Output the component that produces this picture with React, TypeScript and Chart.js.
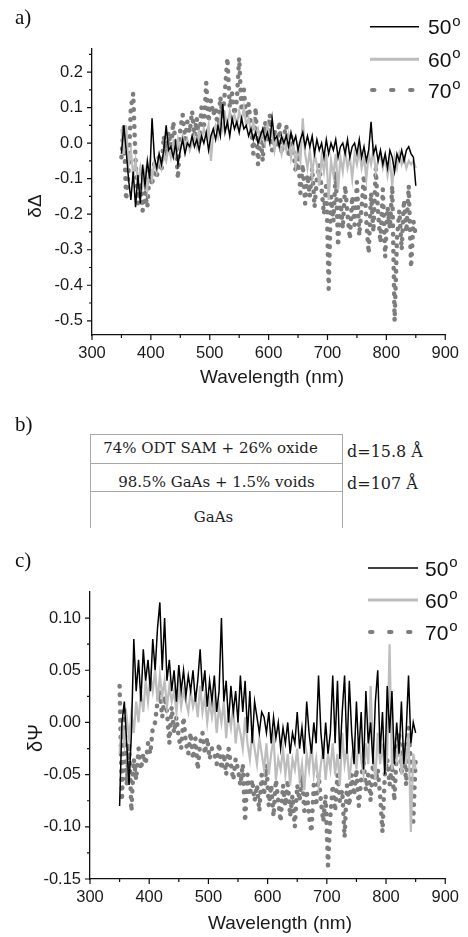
import { useEffect, useRef } from "react";
import { Chart, registerables } from "chart.js";

Chart.register(...registerables);

// ---------- data ----------
const wavelengths = [
  350, 354, 358, 362, 366, 370, 374, 378, 382, 386,
  390, 394, 398, 402, 406, 410, 414, 418, 422, 426,
  430, 434, 438, 442, 446, 450, 454, 458, 462, 466,
  470, 474, 478, 482, 486, 490, 494, 498, 502, 506,
  510, 514, 518, 522, 526, 530, 534, 538, 542, 546,
  550, 554, 558, 562, 566, 570, 574, 578, 582, 586,
  590, 594, 598, 602, 606, 610, 614, 618, 622, 626,
  630, 634, 638, 642, 646, 650, 654, 658, 662, 666,
  670, 674, 678, 682, 686, 690, 694, 698, 702, 706,
  710, 714, 718, 722, 726, 730, 734, 738, 742, 746,
  750, 754, 758, 762, 766, 770, 774, 778, 782, 786,
  790, 794, 798, 802, 806, 810, 814, 818, 822, 826,
  830, 834, 838, 842, 846, 850,
];

// panel a) delta-Delta
const deltaDelta50 = [
  -0.03, 0.05, -0.02, -0.10, -0.16, -0.08, -0.18, -0.09, -0.17, -0.06,
  -0.12, -0.05, -0.10, 0.07, -0.04, -0.07, -0.03, -0.06, -0.02, 0.05,
  -0.02, -0.01, -0.04, 0.00, -0.06, -0.02, 0.01, -0.03, 0.00, -0.01,
  0.02, -0.01, 0.01, -0.02, 0.02, 0.00, 0.03, -0.02, 0.02, 0.04,
  0.01, 0.05, 0.02, 0.11, 0.03, 0.06, 0.02, 0.07, 0.04, 0.06,
  0.03, 0.07, 0.04, 0.05, 0.02, 0.04, 0.01, 0.03, 0.00, 0.02,
  0.04, 0.01, 0.03, 0.00, 0.07, 0.01, 0.02, -0.01, 0.02, 0.00,
  0.02, -0.01, 0.03, 0.00, 0.02, -0.02, 0.01, 0.03, -0.01, 0.02,
  -0.01, 0.02, -0.03, 0.01, -0.02, 0.00, -0.04, 0.01, -0.03, 0.00,
  -0.02, 0.01, -0.04, -0.01, 0.00, -0.03, 0.01, -0.04, -0.01, 0.00,
  -0.03, 0.01, -0.04, -0.01, -0.05, -0.02, 0.06, -0.03, -0.01, -0.05,
  -0.02, -0.06, -0.03, -0.07, -0.02, -0.04, -0.08, -0.03, -0.05, -0.02,
  -0.05, -0.02, -0.01, -0.03, -0.04, -0.12,
];
const deltaDelta60 = [
  0.04, -0.03, 0.05, -0.06, -0.02, -0.09, -0.05, -0.11, -0.07, -0.12,
  -0.08, -0.13, -0.06, -0.10, -0.05, -0.08, -0.04, -0.07, -0.03, -0.05,
  -0.01, -0.04, 0.00, -0.03, 0.01, -0.02, 0.02, -0.01, 0.01, -0.02,
  0.00, 0.02, -0.01, 0.03, 0.01, 0.04, 0.02, 0.05, -0.05, 0.03,
  0.05, 0.02, 0.07, 0.04, 0.08, 0.05, 0.09, 0.06, 0.08, 0.05,
  0.09, 0.06, 0.10, 0.05, 0.07, 0.03, 0.06, 0.02, 0.04, 0.01,
  0.03, 0.00, 0.05, 0.01, 0.03, -0.02, 0.02, 0.00, -0.03, 0.01,
  -0.02, 0.02, -0.04, 0.00, -0.06, -0.01, -0.05, 0.07, -0.03, -0.07,
  -0.02, -0.09, -0.03, -0.06, -0.12, -0.04, -0.08, -0.03, -0.16, -0.05,
  -0.09, -0.03, -0.13, -0.04, -0.08, -0.02, -0.07, -0.04, -0.10, -0.03,
  -0.06, -0.02, -0.07, -0.04, -0.10, -0.03, -0.06, -0.02, -0.08, -0.05,
  -0.03, -0.07, -0.04, -0.09, -0.05, -0.12, -0.04, -0.07, -0.03, -0.06,
  -0.04, -0.07, -0.05, -0.06, -0.05, -0.07,
];
const deltaDelta70 = [
  -0.04, 0.05, -0.16, -0.08, 0.10, 0.14, -0.05, -0.17, -0.11, -0.19,
  -0.14, -0.18, -0.07, -0.12, -0.05, -0.10, -0.03, -0.08, 0.02, -0.04,
  0.03, -0.02, 0.06, 0.00, -0.10, 0.04, 0.08, 0.01, 0.06, 0.03,
  0.09, 0.02, 0.07, 0.00, 0.10, 0.04, 0.17, 0.06, 0.12, 0.08,
  0.10, 0.03, 0.13, 0.07, 0.15, 0.24, 0.10, 0.14, 0.08, 0.12,
  0.24, 0.09, 0.15, 0.07, 0.11, 0.05, -0.03, 0.10, -0.06, 0.03,
  -0.05, 0.06, 0.01, 0.08, -0.02, 0.04, -0.01, 0.06, -0.03, 0.02,
  0.05, -0.04, 0.02, -0.02, -0.08, -0.03, -0.14, -0.06, -0.17, -0.09,
  -0.15, -0.07, -0.18, -0.10, -0.06, -0.13, -0.20, -0.11, -0.41, -0.15,
  -0.22, -0.08, -0.29, -0.16, -0.24, -0.12, -0.20, -0.27, -0.15, -0.23,
  -0.11, -0.26, -0.18, -0.09, -0.22, -0.31, -0.14, -0.25, -0.07, -0.20,
  -0.28, -0.13, -0.32, -0.18, -0.24, -0.12, -0.50, -0.27, -0.19, -0.30,
  -0.16, -0.25, -0.12, -0.35, -0.22, -0.26,
];

// panel c) delta-Psi
const deltaPsi50 = [
  -0.08, 0.00, 0.02, -0.02, -0.06, -0.01, 0.08, 0.03, 0.06, 0.02,
  0.07, 0.04, 0.06, 0.03, 0.08, 0.05, 0.09, 0.115, 0.05, 0.10,
  0.04, 0.06, 0.03, 0.05, 0.02, 0.055, 0.03, 0.05, 0.025, 0.045,
  0.03, 0.05, 0.02, 0.04, 0.07, 0.03, 0.05, 0.015, 0.04, 0.02,
  0.045, 0.01, 0.03, 0.10, 0.02, 0.04, 0.00, 0.035, 0.01, 0.03,
  0.00, 0.045, 0.01, 0.04, -0.01, 0.03, -0.02, 0.02, 0.005, -0.01,
  0.01, 0.005, -0.01, 0.01, -0.02, 0.005, -0.015, 0.00, -0.025, -0.005,
  -0.02, 0.00, -0.03, -0.01, -0.02, 0.01, -0.025, -0.005, -0.03, 0.02,
  -0.01, -0.03, 0.00, -0.02, 0.045, -0.01, -0.035, 0.00, -0.03, -0.01,
  0.045, -0.02, 0.04, -0.035, 0.01, 0.045, -0.03, 0.04, -0.01, -0.04,
  0.02, -0.03, 0.01, -0.045, 0.03, -0.02, 0.00, -0.04, 0.02, 0.05,
  -0.03, 0.01, -0.05, 0.035, -0.01, 0.03, -0.04, 0.00, -0.03, 0.02,
  -0.04, -0.01, 0.045, -0.02, 0.00, -0.01,
];
const deltaPsi60 = [
  -0.03, 0.00, -0.02, 0.005, -0.015, 0.01, -0.01, 0.02, 0.00, 0.03,
  0.01, 0.04, 0.02, 0.045, 0.03, 0.05, 0.02, 0.045, 0.025, 0.04,
  0.015, 0.035, 0.02, 0.03, 0.01, 0.035, 0.015, 0.03, 0.02, 0.01,
  0.03, 0.015, 0.025, 0.005, 0.035, 0.01, 0.025, 0.00, 0.02, 0.005,
  0.02, -0.01, 0.015, 0.00, 0.02, -0.015, 0.01, -0.005, 0.015, -0.02,
  0.00, -0.01, -0.025, 0.005, -0.02, -0.035, -0.01, -0.025, -0.04, -0.015,
  -0.03, -0.045, -0.02, -0.05, -0.03, -0.015, -0.055, -0.035, -0.045, -0.025,
  -0.05, -0.03, -0.06, -0.035, -0.045, -0.025, -0.055, -0.04, -0.065, -0.03,
  -0.045, -0.02, -0.05, -0.035, -0.06, -0.04, -0.025, -0.055, -0.03, -0.045,
  -0.02, -0.05, -0.03, -0.06, -0.01, -0.04, -0.025, -0.055, -0.035, -0.02,
  -0.045, -0.015, -0.035, -0.05, -0.02, -0.04, 0.035, -0.03, -0.055, -0.01,
  -0.04, -0.02, -0.05, -0.03, 0.075, -0.045, -0.02, -0.035, -0.015, -0.05,
  -0.02, -0.04, -0.01, -0.105, -0.03, -0.045,
];
const deltaPsi70 = [
  0.035, -0.075, 0.015, -0.06, -0.02, -0.085, -0.035, -0.055, -0.025, -0.045,
  -0.03, -0.04, -0.02, -0.03, -0.005, 0.00, 0.02, 0.03, 0.005, 0.025,
  0.01, -0.02, 0.015, -0.01, 0.005, -0.015, -0.025, 0.005, -0.02, -0.03,
  -0.01, -0.035, -0.015, -0.045, -0.02, -0.01, -0.03, -0.015, -0.035, -0.025,
  -0.03, -0.04, -0.02, -0.045, -0.03, -0.05, -0.025, -0.04, -0.055, -0.035,
  -0.045, -0.06, -0.04, -0.095, -0.05, -0.07, -0.055, -0.075, -0.06, -0.085,
  -0.05, -0.07, -0.04, -0.08, -0.06, -0.09, -0.055, -0.075, -0.095, -0.06,
  -0.08, -0.055, -0.09, -0.07, -0.10, -0.06, -0.075, -0.05, -0.085, -0.065,
  -0.09, -0.105, -0.06, -0.08, -0.05, -0.075, -0.095, -0.07, -0.137, -0.09,
  -0.06, -0.085, -0.05, -0.075, -0.065, -0.11, -0.06, -0.08, -0.05, -0.07,
  -0.045, -0.08, -0.055, -0.035, -0.065, -0.05, -0.075, -0.04, -0.06, -0.045,
  -0.07, -0.105, -0.05, -0.035, -0.06, -0.04, -0.075, -0.03, -0.01, -0.05,
  -0.02, -0.06, -0.005, -0.04, -0.095, -0.035,
];

const angleLabels = ["50", "60", "70"];
const xTicks = [300, 400, 500, 600, 700, 800, 900];
const xMinorTicks = [350, 450, 550, 650, 750, 850];
const yTicksA = [-0.5, -0.4, -0.3, -0.2, -0.1, 0, 0.1, 0.2];
const yMinorTicksA = [-0.45, -0.35, -0.25, -0.15, -0.05, 0.05, 0.15, 0.25];
const yTicksC = [-0.15, -0.1, -0.05, 0, 0.05, 0.1];
const yMinorTicksC = [-0.125, -0.075, -0.025, 0.025, 0.075];

// ---------- styles ----------
const SANS = '"Liberation Sans", Arial, sans-serif';
const SERIF_T = '"Liberation Serif", "Times New Roman", serif';
const SERIF_B = '"DejaVu Serif", serif';
const COLOR_50 = "#000000";
const COLOR_60 = "#bdbdbd";
const COLOR_70 = "#7d7d7d";

const decorPlugin = {
  id: "decor",
  afterDraw(chart: any, _args: any, opts: any) {
    const { ctx, chartArea, scales } = chart;
    const xs = scales.x;
    const ys = scales.y;
    ctx.save();
    ctx.strokeStyle = "#111";
    ctx.lineWidth = 1.2;
    ctx.beginPath();
    const tickX = (v: number, len: number) => {
      const px = xs.getPixelForValue(v);
      ctx.moveTo(px, chartArea.bottom);
      ctx.lineTo(px, chartArea.bottom + len);
    };
    const tickY = (v: number, len: number) => {
      const py = ys.getPixelForValue(v);
      ctx.moveTo(chartArea.left, py);
      ctx.lineTo(chartArea.left - len, py);
    };
    opts.xMajor.forEach((v: number) => tickX(v, 5));
    opts.xMinor.forEach((v: number) => tickX(v, 3));
    opts.yMajor.forEach((v: number) => tickY(v, 5));
    opts.yMinor.forEach((v: number) => tickY(v, 3));
    ctx.stroke();

    // axis titles
    ctx.fillStyle = "#1a1a1a";
    ctx.font = `19px ${SANS}`;
    ctx.textAlign = "center";
    ctx.textBaseline = "alphabetic";
    ctx.fillText(opts.xTitle, opts.xTitleX, opts.xTitleY);
    ctx.save();
    ctx.translate(opts.yTitleX, opts.yTitleY);
    ctx.rotate(-Math.PI / 2);
    ctx.textBaseline = "middle";
    ctx.font = `${opts.yTitleSize}px ${SANS}`;
    ctx.fillText(opts.yTitle, 0, 0);
    ctx.restore();

    // legend
    const L = opts.legend;
    chart.data.datasets.forEach((ds: any, i: number) => {
      const y = L.ys[i];
      ctx.save();
      ctx.strokeStyle = ds.borderColor;
      if (ds.borderDash && ds.borderDash.length) {
        ctx.lineWidth = 4;
        ctx.lineCap = "round";
        ctx.beginPath();
        for (let k = 0; k < 3; k++) {
          const sx = L.x0 + 2 + k * 19;
          ctx.moveTo(sx, y);
          ctx.lineTo(sx + 2.5, y);
        }
        ctx.stroke();
      } else {
        ctx.lineWidth = i === 0 ? 1.5 : 3;
        ctx.beginPath();
        ctx.moveTo(L.x0, y);
        ctx.lineTo(L.x1, y);
        ctx.stroke();
      }
      ctx.restore();
      ctx.fillStyle = "#111";
      ctx.textAlign = "left";
      ctx.textBaseline = "alphabetic";
      ctx.font = `21px ${SANS}`;
      const txt = angleLabels[i];
      ctx.fillText(txt, L.textX, y + 7.5);
      const w = ctx.measureText(txt).width;
      ctx.font = `15px ${SANS}`;
      ctx.fillText("o", L.textX + w + 1, y - 1);
    });
    ctx.restore();
  },
};

function makeConfig(p: any) {
  const pts = (vals: number[]) => wavelengths.map((x, i) => ({ x, y: vals[i] }));
  const tickFont = { family: SANS, size: 16.5 };
  return {
    type: "line",
    data: {
      datasets: [
        {
          label: `${angleLabels[0]}°`,
          data: pts(p.s50),
          borderColor: COLOR_50,
          borderWidth: 1.5,
          pointRadius: 0,
          tension: 0,
        },
        {
          label: `${angleLabels[1]}°`,
          data: pts(p.s60),
          borderColor: COLOR_60,
          borderWidth: 2.2,
          pointRadius: 0,
          tension: 0,
        },
        {
          label: `${angleLabels[2]}°`,
          data: pts(p.s70),
          borderColor: COLOR_70,
          borderWidth: 4.5,
          borderDash: [0.5, 8],
          borderCapStyle: "round",
          borderJoinStyle: "round",
          pointRadius: 0,
          tension: 0,
        },
      ],
    },
    options: {
      animation: false,
      responsive: false,
      maintainAspectRatio: false,
      events: [],
      layout: { padding: p.padding },
      plugins: {
        legend: { display: false },
        tooltip: { enabled: false },
        decor: p.decor,
      },
      scales: {
        x: {
          type: "linear",
          min: 300,
          max: 900,
          afterFit: (s: any) => {
            s.height = p.xAxisHeight;
          },
          afterBuildTicks: (s: any) => {
            s.ticks = xTicks.map((v) => ({ value: v }));
          },
          grid: { display: false, drawTicks: false },
          border: { display: true, color: "#111", width: 1.3 },
          ticks: {
            padding: 9,
            autoSkip: false,
            maxRotation: 0,
            color: "#1a1a1a",
            font: tickFont,
            callback: (v: any) => String(v),
          },
        },
        y: {
          type: "linear",
          min: p.yMin,
          max: p.yMax,
          afterFit: (s: any) => {
            s.width = p.yAxisWidth;
          },
          afterBuildTicks: (s: any) => {
            s.ticks = p.yTicks.map((v: number) => ({ value: v }));
          },
          grid: { display: false, drawTicks: false },
          border: { display: true, color: "#111", width: 1.3 },
          ticks: {
            padding: 9,
            autoSkip: false,
            color: "#1a1a1a",
            font: tickFont,
            callback: (v: any) => Number(v).toFixed(p.decimals),
          },
        },
      },
    },
    plugins: [decorPlugin],
  };
}

function ChartCanvas({ config, width, height, top }: any) {
  const ref = useRef<HTMLCanvasElement | null>(null);
  useEffect(() => {
    if (!ref.current) return;
    const chart = new Chart(ref.current, config as any);
    return () => chart.destroy();
  }, []);
  return (
    <canvas
      ref={ref}
      width={width}
      height={height}
      style={{ position: "absolute", left: 0, top, width, height }}
    />
  );
}

const configA = makeConfig({
  s50: deltaDelta50,
  s60: deltaDelta60,
  s70: deltaDelta70,
  yMin: -0.54,
  yMax: 0.265,
  yTicks: yTicksA,
  decimals: 1,
  padding: { left: 0, right: 18, top: 49, bottom: 0 },
  xAxisHeight: 60,
  yAxisWidth: 92,
  decor: {
    xMajor: xTicks,
    xMinor: xMinorTicks,
    yMajor: yTicksA,
    yMinor: yMinorTicksA,
    xTitle: "Wavelength (nm)",
    xTitleX: 272,
    xTitleY: 383,
    yTitle: "δΔ",
    yTitleX: 36,
    yTitleY: 206,
    yTitleSize: 19,
    legend: { x0: 370, x1: 419, textX: 428, ys: [26.7, 59.3, 90] },
  },
});

const configC = makeConfig({
  s50: deltaPsi50,
  s60: deltaPsi60,
  s70: deltaPsi70,
  yMin: -0.15,
  yMax: 0.125,
  yTicks: yTicksC,
  decimals: 2,
  padding: { left: 0, right: 21, top: 47, bottom: 0 },
  xAxisHeight: 58,
  yAxisWidth: 90,
  decor: {
    xMajor: xTicks,
    xMinor: xMinorTicks,
    yMajor: yTicksC,
    yMinor: yMinorTicksC,
    xTitle: "Wavelength (nm)",
    xTitleX: 280,
    xTitleY: 384,
    yTitle: "δΨ",
    yTitleX: 36,
    yTitleY: 193,
    yTitleSize: 20,
    legend: { x0: 368, x1: 418, textX: 425, ys: [23, 55, 87] },
  },
});

const panelLabel = (top: number): any => ({
  position: "absolute",
  left: 15,
  top,
  fontFamily: SERIF_T,
  fontSize: 21,
  lineHeight: "21px",
  color: "#111",
});

const layerText = (top: number, shift = 0): any => ({
  position: "absolute",
  left: 90 + shift,
  top,
  width: 253,
  textAlign: "center",
  fontFamily: SERIF_B,
  fontSize: 15,
  lineHeight: "20px",
  color: "#1e1e1e",
  whiteSpace: "nowrap",
});

const dText = (top: number): any => ({
  position: "absolute",
  left: 347,
  top,
  fontFamily: SERIF_B,
  fontSize: 16,
  lineHeight: "20px",
  color: "#1e1e1e",
  whiteSpace: "nowrap",
});

const LINE = "1.5px solid #a8a8a8";

export default function App() {
  return (
    <div
      style={{
        position: "absolute",
        left: 0,
        top: 0,
        width: 468,
        height: 937,
        background: "#ffffff",
        overflow: "hidden",
      }}
    >
      <ChartCanvas config={configA} width={468} height={395} top={0} />
      <ChartCanvas config={configC} width={468} height={392} top={545} />

      <div style={panelLabel(7)}>a)</div>
      <div style={panelLabel(414)}>b)</div>
      <div style={panelLabel(550)}>c)</div>

      {/* layer stack */}
      <div
        style={{
          position: "absolute",
          left: 90,
          top: 434,
          width: 253,
          height: 94,
          borderTop: LINE,
          borderLeft: LINE,
          borderRight: LINE,
          boxSizing: "border-box",
        }}
      />
      <div style={{ position: "absolute", left: 90, top: 462.5, width: 253, height: 0, borderTop: LINE }} />
      <div style={{ position: "absolute", left: 90, top: 491, width: 253, height: 0, borderTop: LINE }} />

      <div style={layerText(438, -6)}>74% ODT SAM + 26% oxide</div>
      <div style={layerText(472)}>98.5% GaAs + 1.5% voids</div>
      <div style={layerText(507, -3)}>GaAs</div>

      <div style={dText(441.5)}>d=15.8 Å</div>
      <div style={dText(473.5)}>d=107 Å</div>
    </div>
  );
}
